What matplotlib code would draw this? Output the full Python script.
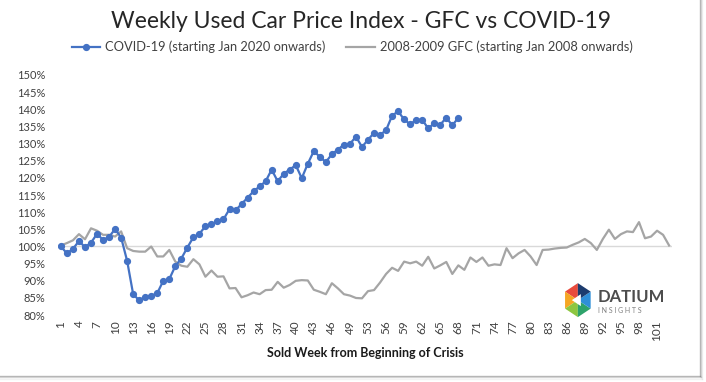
import numpy as np
import matplotlib
matplotlib.use("Agg")
import matplotlib.pyplot as plt
from matplotlib.patches import Polygon
from matplotlib.lines import Line2D

plt.rcParams['font.family'] = ['Lato', 'DejaVu Sans']

#-------------------- data --------------------#
# category labels (Excel axis skips week 51)
weeks = list(range(1, 51)) + list(range(52, 104))

covid = [100.0, 98.0, 99.3, 101.6, 99.8, 101.1, 103.7, 101.9, 102.8, 105.1,
         102.6, 95.8, 86.1, 84.3, 85.4, 85.6, 86.4, 90.0, 90.5, 94.3,
         96.5, 99.7, 102.7, 103.7, 105.9, 106.5, 107.3, 107.9, 110.9, 110.5,
         112.4, 114.2, 116.1, 117.5, 119.0, 122.4, 119.0, 121.2, 122.4, 123.7,
         119.9, 124.1, 127.8, 126.1, 124.6, 126.9, 128.2, 129.7, 129.9, 132.0,
         129.0, 131.1, 133.1, 132.5, 133.9, 138.1, 139.4, 137.0, 135.6, 136.9,
         136.9, 134.4, 135.9, 135.5, 137.5, 135.3, 137.5]

gfc = [100.3, 101.0, 101.8, 103.6, 102.1, 105.3, 104.6, 103.4, 103.4, 102.9,
       104.4, 99.5, 98.7, 98.5, 98.5, 100.0, 97.1, 97.1, 99.0, 95.6,
       94.4, 94.1, 96.3, 94.8, 91.2, 93.0, 91.2, 91.3, 87.8, 87.9,
       85.2, 85.8, 86.6, 86.1, 87.3, 87.4, 89.7, 88.0, 88.8, 90.0,
       90.2, 90.1, 87.4, 86.8, 86.1, 89.3, 87.8, 86.1, 85.7, 85.0,
       84.9, 87.0, 87.3, 89.5, 92.0, 93.8, 92.9, 95.6, 95.1, 95.6,
       94.4, 97.0, 93.6, 94.5, 95.5, 92.0, 94.5, 93.2, 96.8, 95.5,
       96.8, 94.4, 94.8, 94.6, 99.5, 96.6, 98.0, 99.0, 97.1, 94.6,
       99.0, 99.1, 99.4, 99.6, 99.7, 100.5, 101.2, 102.2, 101.0, 99.0,
       102.2, 104.9, 102.2, 103.6, 104.4, 104.2, 107.1, 102.4, 102.9, 104.6,
       103.4, 100.3]

yticks = list(range(80, 151, 5))

#-------------------- figure --------------------#
fig = plt.figure(figsize=(7.06, 3.82), dpi=100)
ax = fig.add_axes([0.082, 0.175, 0.870, 0.629])

x_gfc = np.arange(len(gfc))
x_cov = np.arange(len(covid))

ax.axhline(100, color='#d9d9d9', lw=1.0, zorder=1)
ax.plot(x_gfc, gfc, color='#a5a5a5', lw=1.6, solid_joinstyle='round', zorder=2)
ax.plot(x_cov, covid, color='#4472c4', lw=1.6, marker='o', ms=4.2, zorder=3)

ax.set_xlim(-0.5, len(gfc) - 0.5)
ax.set_ylim(80, 150)
ax.set_yticks(yticks)
ax.set_yticklabels([f"{v}%" for v in yticks], fontsize=8, color='#404040')
ticks = list(range(0, len(weeks), 3))
ax.set_xticks(ticks)
ax.set_xticklabels([str(weeks[i]) for i in ticks], rotation=90,
                   fontsize=8.5, color='#404040')
ax.tick_params(axis='both', length=0)
ax.tick_params(axis='y', pad=9)
ax.tick_params(axis='x', pad=4)
for s in ax.spines.values():
    s.set_visible(False)

fig.text(0.512, 0.945, "Weekly Used Car Price Index - GFC vs COVID-19",
         ha='center', va='center', fontsize=16.5, color='#262626')
fig.text(0.517, 0.075, "Sold Week from Beginning of Crisis", ha='center',
         va='center', fontsize=9, fontweight='bold', color='#1a1a1a')

# legend
handles = [Line2D([], [], color='#4472c4', lw=1.6, marker='o', ms=4.2),
           Line2D([], [], color='#a5a5a5', lw=1.6)]
leg = fig.legend(handles, ["COVID-19 (starting Jan 2020 onwards)",
                           "2008-2009 GFC (starting Jan 2008 onwards)"],
                 loc='center', bbox_to_anchor=(0.499, 0.877), ncol=2,
                 frameon=False, fontsize=9.3, handlelength=2.2,
                 columnspacing=1.6, handletextpad=0.4)
for t in leg.get_texts():
    t.set_color('#404040')

#-------------------- logo --------------------#
lax = fig.add_axes([0.793, 0.162, 0.1416, 0.1047])
lax.set_xlim(0, 100)
lax.set_ylim(0, 40)
lax.axis('off')
cx, cy, r = 18, 20, 17
ang = np.deg2rad(np.arange(90, 450, 60))
hx = cx + r * np.cos(ang) * 0.87
hy = cy + r * np.sin(ang)
cols = ['#e94b3c', '#f5a623', '#8dc63f', '#2ea36b', '#2f8fd8', '#1d3c6e']
for k in range(6):
    lax.add_patch(Polygon([[cx, cy], [hx[k], hy[k]], [hx[(k + 1) % 6], hy[(k + 1) % 6]]],
                          closed=True, color=cols[k], lw=0))
lax.add_patch(Polygon([[cx - 6, cy], [cx + 3, cy + 6], [cx + 3, cy - 6]],
                      closed=True, color='white', lw=0))
lax.text(38, 23, "DATIUM", fontsize=12, fontweight='bold', color='#4d4d4d',
         va='center', ha='left')
lax.text(38.5, 10, "I N S I G H T S", fontsize=5, color='#808080',
         va='center', ha='left')

# frame / shadow
for k, a in enumerate([0.55, 0.25, 0.1]):
    fig.add_artist(Line2D([0.9915 + k * 0.0014] * 2, [0.015 - k * 0.003, 1.0],
                          transform=fig.transFigure, color='#808080', alpha=a, lw=1))
    fig.add_artist(Line2D([0.0, 0.9915 + k * 0.0014], [0.015 - k * 0.003] * 2,
                          transform=fig.transFigure, color='#808080', alpha=a, lw=1))

fig.savefig("out.png", dpi=100)
